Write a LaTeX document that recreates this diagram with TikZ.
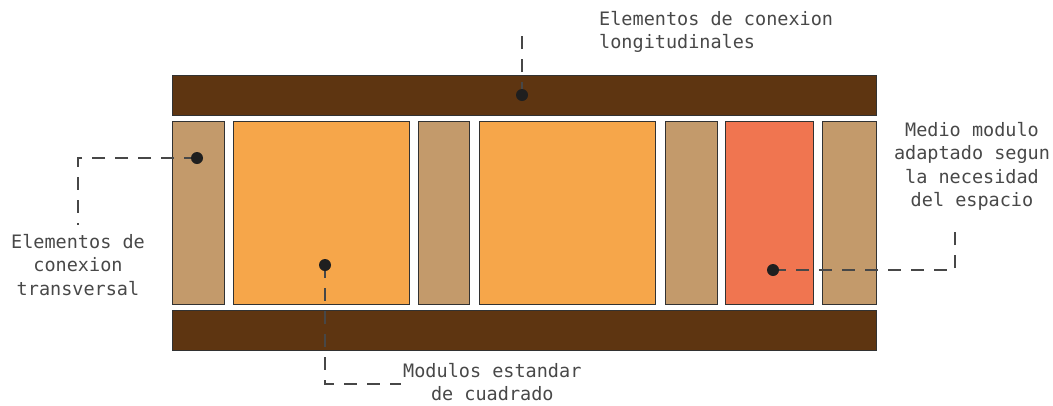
\documentclass[tikz,border=0pt]{standalone}
\usepackage{fontspec}
\setmonofont{DejaVu Sans Mono}
\usetikzlibrary{calc}
\definecolor{beamBrown}{RGB}{94,53,17}
\definecolor{jointTan}{RGB}{195,154,107}
\definecolor{moduleOrange}{RGB}{246,166,74}
\definecolor{halfRed}{RGB}{240,117,80}
\definecolor{edgeGray}{RGB}{50,50,50}
\definecolor{noteGray}{RGB}{72,72,72}

\begin{document}
\begin{tikzpicture}[x=1pt,y=-1pt,
  part/.style={draw=edgeGray,line width=1.3pt,anchor=north west,inner sep=0pt,minimum height=183pt},
  beam/.style={part,fill=beamBrown,minimum width=704pt,minimum height=40pt},
  dotmark/.style={circle,fill=black!88,inner sep=0pt,minimum size=12pt},
  leader/.style={draw=black!72,line width=2pt,dash pattern=on 13pt off 10pt},
  note/.style={font=\ttfamily\fontsize{18.5}{23.5}\selectfont,text=noteGray,inner sep=2pt}]
\useasboundingbox (0,0) rectangle (1053,405);
% beams
\node[beam] (beamTop) at (172,75) {};
\node[beam] (beamBot) at (172,310) {};
% modules and joints
\node[part,fill=jointTan,minimum width=52pt] (joint1) at (172,121) {};
\node[part,fill=moduleOrange,minimum width=176pt] (mod1) at (233,121) {};
\node[part,fill=jointTan,minimum width=51pt] (joint2) at (418,121) {};
\node[part,fill=moduleOrange,minimum width=176pt] (mod2) at (479,121) {};
\node[part,fill=jointTan,minimum width=52pt] (joint3) at (665,121) {};
\node[part,fill=halfRed,minimum width=88pt] (halfMod) at (725,121) {};
\node[part,fill=jointTan,minimum width=54pt] (joint4) at (822,121) {};
% labels
\node[note,anchor=west,align=left] (labLong) at (597,32) {Elementos de conexion\\longitudinales};
\node[note,anchor=north,align=center] (labTrans) at (78,232) {Elementos de\\conexion\\transversal};
\node[note,anchor=west,align=center] (labStd) at (401,382) {Modulos estandar\\de cuadrado};
\node[note,anchor=south,align=center] (labHalf) at (972,213) {Medio modulo\\adaptado segun\\la necesidad\\del espacio};
% points
\coordinate (pLong) at (522,95);
\coordinate (pTrans) at (197,158);
\coordinate (pStd) at (325,265);
\coordinate (pHalf) at (773,270);
\coordinate (endLong) at (522,30);
% leaders
\draw[leader] (pLong) -- (endLong);
\draw[leader] (pTrans) -| ([yshift=7pt]labTrans.north);
\draw[leader] (pStd) |- ([yshift=-2pt]labStd.west);
\draw[leader] (pHalf) -| ([xshift=-17pt,yshift=-12pt]labHalf.south);
% dots
\node[dotmark] (dotLong) at (pLong) {};
\node[dotmark] (dotTrans) at (pTrans) {};
\node[dotmark] (dotStd) at (pStd) {};
\node[dotmark] (dotHalf) at (pHalf) {};
\end{tikzpicture}
\end{document}
